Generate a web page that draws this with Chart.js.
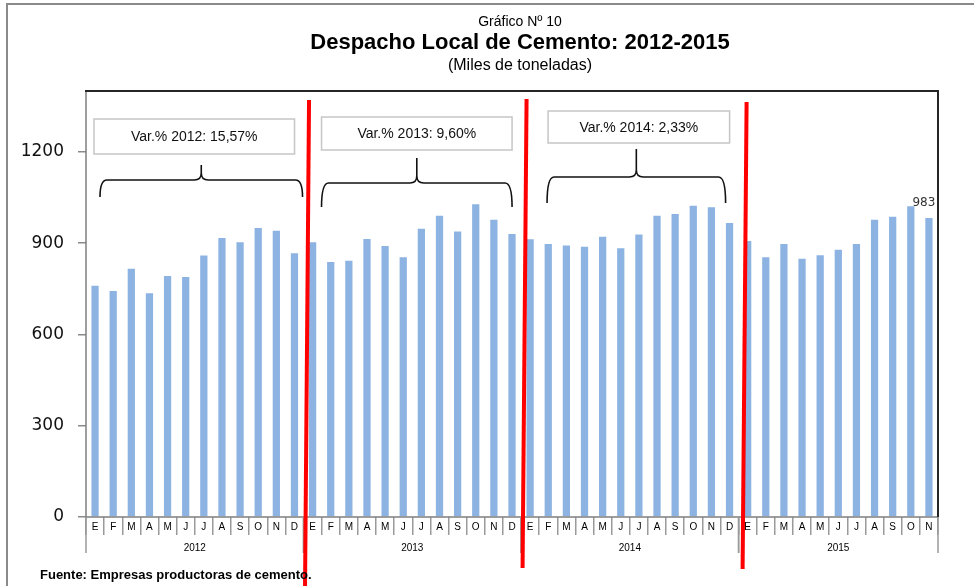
<!DOCTYPE html>
<html><head><meta charset="utf-8">
<script src="https://cdn.jsdelivr.net/npm/chart.js@4/dist/chart.umd.min.js"></script>
<style>html,body{margin:0;padding:0;background:#fff;overflow:hidden}canvas{display:block}</style>
</head><body>
<canvas id="c" width="974" height="586"></canvas>
<script>
const months = ['E','F','M','A','M','J','J','A','S','O','N','D'];
const years = ['2012','2013','2014','2015'];
const values2012 = [760,743,816,735,792,789,859,917,903,950,941,867];
const values2013 = [903,838,842,914,891,854,947,990,938,1028,977,930];
const values2014 = [913,897,892,888,921,883,928,990,996,1023,1018,966];
const values2015 = [907,854,897,849,860,878,897,977,987,1021,983];
const yTicks = [0,300,600,900,1200];
const variationLabels = ['Var.% 2012: 15,57%','Var.% 2013: 9,60%','Var.% 2014: 2,33%'];
const labeledValue = 983;
const titleSmall = 'Gráfico Nº 10';
const titleMain = 'Despacho Local de Cemento: 2012-2015';
const titleSub = '(Miles de toneladas)';
const source = 'Fuente: Empresas productoras de cemento.';

const yearSeries = [values2012, values2013, values2014, values2015];
const labels = [];
const values = [];
const groups = []; // [startIndex, endIndex]
yearSeries.forEach((arr) => {
  const start = labels.length;
  arr.forEach((v, i) => { labels.push(months[i]); values.push(v); });
  groups.push([start, labels.length - 1]);
});

const SANS = '"Liberation Sans", Arial, sans-serif';

// annotation style offsets (pixels relative to year group edges)
const boxStyle = [
  {l: 8, r: -9, top: 119, bot: 154, bl: 14, br: -1, bh: 180, be: 197, bt: 165},
  {l: 18, r: -9, top: 117, bot: 150, bl: 18, br: -9, bh: 183, be: 207, bt: 158},
  {l: 27, r: -9, top: 111, bot: 143, bl: 26, br: -13, bh: 177, be: 203, bt: 149}
];
const redStyle = [
  {dt: 5.5, db: 1.5, top: 100, bot: 586},
  {dt: 5.5, db: 1.5, top: 99, bot: 568},
  {dt: 8, db: 4, top: 102, bot: 569}
];

function brace(ctx, x0, x1, yH, yEnd, yTip) {
  const xm = (x0 + x1) / 2;
  const r = 7;
  ctx.beginPath();
  ctx.moveTo(x0, yEnd);
  ctx.quadraticCurveTo(x0, yH, x0 + r, yH);
  ctx.lineTo(xm - r, yH);
  ctx.quadraticCurveTo(xm, yH, xm, yH - r);
  ctx.lineTo(xm, yTip);
  ctx.moveTo(xm, yTip);
  ctx.lineTo(xm, yH - r);
  ctx.quadraticCurveTo(xm, yH, xm + r, yH);
  ctx.lineTo(x1 - r, yH);
  ctx.quadraticCurveTo(x1, yH, x1, yEnd);
  ctx.stroke();
}

const overlay = {
  id: 'overlay',
  afterDraw(chart) {
    const ctx = chart.ctx;
    const xs = chart.scales.x;
    const area = chart.chartArea;
    const step = xs.getPixelForValue(1) - xs.getPixelForValue(0);
    const edgeL = (i) => xs.getPixelForValue(i) - step / 2;
    const edgeR = (i) => xs.getPixelForValue(i) + step / 2;
    ctx.save();

    // outer page border (top and left)
    ctx.strokeStyle = '#8a8a8a';
    ctx.lineWidth = 2;
    ctx.beginPath();
    ctx.moveTo(7, 586); ctx.lineTo(7, 4); ctx.lineTo(974, 4);
    ctx.stroke();

    // plot frame
    ctx.strokeStyle = '#7f7f7f';
    ctx.lineWidth = 1.5;
    ctx.beginPath();
    ctx.moveTo(area.left, area.top); ctx.lineTo(area.left, area.bottom); ctx.lineTo(area.right, area.bottom);
    ctx.stroke();
    ctx.strokeStyle = '#262626';
    ctx.lineWidth = 2;
    ctx.beginPath();
    ctx.moveTo(area.left - 1, area.top); ctx.lineTo(area.right, area.top); ctx.lineTo(area.right, area.bottom);
    ctx.stroke();

    // year labels and dividers
    ctx.strokeStyle = '#9a9a9a';
    ctx.lineWidth = 1.5;
    ctx.fillStyle = '#000';
    ctx.font = '10px ' + SANS;
    ctx.textAlign = 'center';
    ctx.textBaseline = 'middle';
    groups.forEach((g, k) => {
      const l = edgeL(g[0]), r = edgeR(g[1]);
      ctx.beginPath();
      ctx.moveTo(l, area.bottom); ctx.lineTo(l, area.bottom + 36);
      ctx.moveTo(r, area.bottom); ctx.lineTo(r, area.bottom + 36);
      ctx.stroke();
      ctx.fillText(years[k], (l + r) / 2, area.bottom + 31);
    });

    // variation boxes and braces
    variationLabels.forEach((txt, k) => {
      const g = groups[k];
      const s = boxStyle[k];
      const l = edgeL(g[0]), r = edgeR(g[1]);
      const bx0 = l + s.l, bx1 = r + s.r;
      ctx.fillStyle = '#fff';
      ctx.fillRect(bx0, s.top, bx1 - bx0, s.bot - s.top);
      ctx.strokeStyle = '#c6c6c6';
      ctx.lineWidth = 1.5;
      ctx.strokeRect(bx0, s.top, bx1 - bx0, s.bot - s.top);
      ctx.fillStyle = '#111';
      ctx.font = '14px ' + SANS;
      ctx.textAlign = 'center';
      ctx.textBaseline = 'middle';
      ctx.fillText(txt, (bx0 + bx1) / 2, (s.top + s.bot) / 2 + 1);
      ctx.strokeStyle = '#111';
      ctx.lineWidth = 1.6;
      brace(ctx, l + s.bl, r + s.br, s.bh, s.be, s.bt);
    });

    // data label on the last bar
    const meta = chart.getDatasetMeta(0);
    const last = meta.data[meta.data.length - 1];
    ctx.fillStyle = '#333';
    ctx.font = '12px "DejaVu Sans", sans-serif';
    ctx.textAlign = 'center';
    ctx.textBaseline = 'alphabetic';
    ctx.fillText(String(labeledValue), last.x - 5, last.y - 12);

    // red separators between years
    ctx.strokeStyle = '#ff0000';
    ctx.lineWidth = 4;
    for (let k = 0; k < groups.length - 1; k++) {
      const b = edgeR(groups[k][1]);
      const s = redStyle[k];
      ctx.beginPath();
      ctx.moveTo(b + s.dt, s.top);
      ctx.lineTo(b + s.db, s.bot);
      ctx.stroke();
    }

    // titles
    ctx.fillStyle = '#000';
    ctx.textAlign = 'center';
    ctx.textBaseline = 'alphabetic';
    const cx = 520;
    ctx.font = '14px ' + SANS;
    ctx.fillText(titleSmall, cx, 26);
    ctx.font = 'bold 22px ' + SANS;
    ctx.fillText(titleMain, cx, 49);
    ctx.font = '16px ' + SANS;
    ctx.fillText(titleSub, cx, 70);

    // source
    ctx.textAlign = 'left';
    ctx.font = 'bold 13px ' + SANS;
    ctx.fillText(source, 40, 579);
    ctx.restore();
  }
};

new Chart(document.getElementById('c'), {
  type: 'bar',
  data: {
    labels: labels,
    datasets: [{
      data: values,
      backgroundColor: '#8DB3E2',
      borderWidth: 0,
      barPercentage: 0.4,
      categoryPercentage: 1.0
    }]
  },
  options: {
    responsive: false,
    animation: false,
    devicePixelRatio: 1,
    layout: {padding: {left: 0, right: 36, top: 91, bottom: 0}},
    plugins: {legend: {display: false}, tooltip: {enabled: false}, title: {display: false}},
    scales: {
      x: {
        grid: {offset: true, drawOnChartArea: false, drawTicks: true, tickLength: 18, color: '#9a9a9a', lineWidth: 1.5},
        border: {display: false},
        ticks: {autoSkip: false, maxRotation: 0, minRotation: 0, padding: -14, color: '#000',
                font: {family: 'Liberation Sans', size: 10}},
        afterFit: (s) => { s.height = 69; }
      },
      y: {
        min: 0, max: 1400,
        afterBuildTicks: (s) => { s.ticks = yTicks.map(v => ({value: v})); },
        grid: {drawOnChartArea: false, drawTicks: true, tickLength: 8, color: '#8a8a8a', lineWidth: 1.5},
        border: {display: false},
        ticks: {padding: 14, color: '#111', font: {family: 'DejaVu Sans', size: 17},
                callback: (v) => String(v)},
        afterFit: (s) => { s.width = 86; }
      }
    }
  },
  plugins: [overlay]
});
</script>
</body></html>
